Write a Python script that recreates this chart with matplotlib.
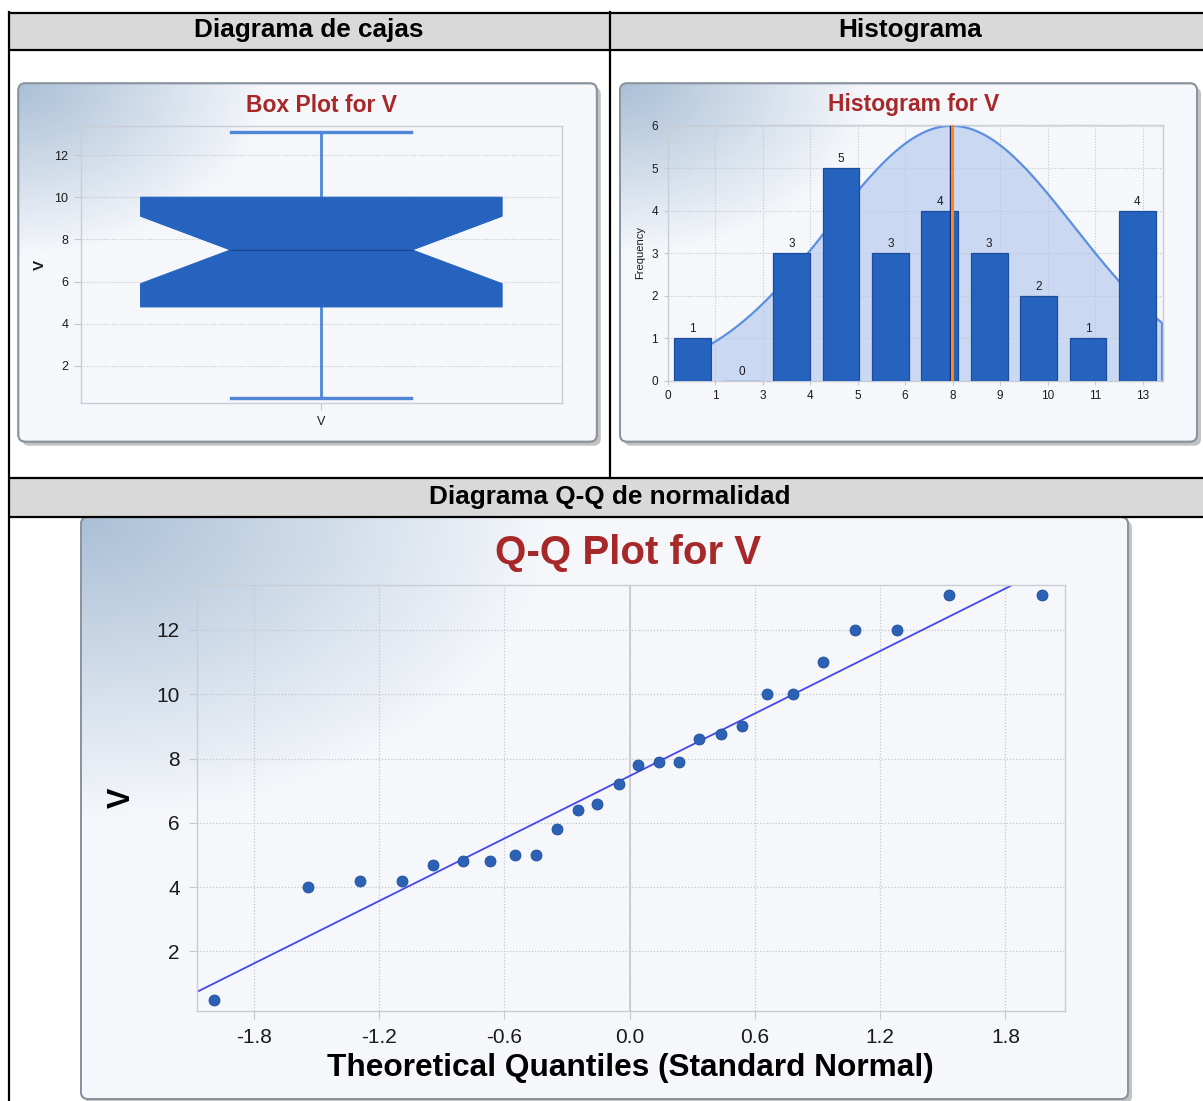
import numpy as np
import matplotlib
matplotlib.use("Agg")
import matplotlib.pyplot as plt
from matplotlib.patches import FancyBboxPatch, Rectangle, Polygon

plt.rcParams['font.family'] = ['Liberation Sans', 'DejaVu Sans']

W, H = 1203, 1101

# ---------------- data ----------------
header_top_left = "Diagrama de cajas"
header_top_right = "Histograma"
header_bottom = "Diagrama Q-Q de normalidad"

box_title = "Box Plot for V"
box_category = ["V"]
box_q1 = 4.8
box_median = 7.5
box_q3 = 10.0
box_notch_low = 5.9
box_notch_high = 9.1
box_whisker_low = 0.5
box_whisker_high = 13.1
box_yticks = [2, 4, 6, 8, 10, 12]

hist_title = "Histogram for V"
hist_counts = [1, 0, 3, 5, 3, 4, 3, 2, 1, 4]
hist_edge_labels = ["0", "1", "3", "4", "5", "6", "8", "9", "10", "11", "13"]
hist_yticks = [0, 1, 2, 3, 4, 5, 6]
hist_mean_pos = 5.98      # mean marker, in edge-label units
hist_curve_peak = 6.0
hist_curve_sd = 2.57
hist_curve_start = 0.935

qq_title = "Q-Q Plot for V"
qq_theoretical = [-1.99, -1.54, -1.29, -1.09, -0.94, -0.80, -0.67, -0.55, -0.45,
                  -0.35, -0.25, -0.155, -0.05, 0.04, 0.14, 0.235, 0.33, 0.435,
                  0.54, 0.66, 0.78, 0.925, 1.08, 1.28, 1.53, 1.975]
qq_values = [0.5, 4.0, 4.2, 4.2, 4.7, 4.8, 4.8, 5.0, 5.0, 5.8, 6.4, 6.6, 7.2,
             7.8, 7.9, 7.9, 8.6, 8.75, 9.0, 10.0, 10.0, 11.0, 12.0, 12.0, 13.1, 13.1]
qq_line_intercept = 7.46
qq_line_slope = 3.24
qq_xticks = [-1.8, -1.2, -0.6, 0.0, 0.6, 1.2, 1.8]
qq_xticklabels = ["-1.8", "-1.2", "-0.6", "0.0", "0.6", "1.2", "1.8"]
qq_yticks = [2, 4, 6, 8, 10, 12]

# ---------------- style ----------------
TITLE_RED = "#a62828"
BAR_BLUE = "#2563be"
BAR_EDGE = "#1d4d9c"
WHISK = "#4f86d9"
GRID = "#c4c7cc"
SPINE = "#c9ced6"
PANEL_FACE = "#f5f7fb"
PANEL_EDGE = "#8a949e"
TXT = "#1a1a1a"

fig = plt.figure(figsize=(W / 100, H / 100), dpi=100)
fig.patch.set_facecolor("white")

bg = fig.add_axes([0, 0, 1, 1])
bg.set_xlim(0, W)
bg.set_ylim(H, 0)
bg.axis("off")


def add_ax(x0, y0, x1, y1):
    return fig.add_axes([x0 / W, 1 - y1 / H, (x1 - x0) / W, (y1 - y0) / H])


def panel(x0, y0, x1, y1, ga, gb):
    w, h = x1 - x0, y1 - y0
    sh = FancyBboxPatch((x0 + 4, y0 + 4), w, h,
                        boxstyle="round,pad=0,rounding_size=7",
                        fc="#c2c2c2", ec="none", zorder=1)
    bg.add_patch(sh)
    main = FancyBboxPatch((x0, y0), w, h,
                          boxstyle="round,pad=0,rounding_size=7",
                          fc=PANEL_FACE, ec=PANEL_EDGE, lw=1.3, zorder=2)
    bg.add_patch(main)
    nx, ny = int(w), int(h)
    yy, xx = np.mgrid[0:ny, 0:nx]
    r = np.sqrt((xx / ga) ** 2 + (yy / gb) ** 2)
    alpha = np.clip(1 - r, 0, 1) ** 1.0 * 0.92
    img = np.zeros((ny, nx, 4))
    img[..., 0] = 0.64
    img[..., 1] = 0.73
    img[..., 2] = 0.83
    img[..., 3] = alpha
    im = bg.imshow(img, extent=(x0, x1, y1, y0), origin="upper",
                   interpolation="bilinear", zorder=3, aspect="auto")
    im.set_clip_path(main)
    border = FancyBboxPatch((x0, y0), w, h,
                            boxstyle="round,pad=0,rounding_size=7",
                            fc="none", ec=PANEL_EDGE, lw=1.3, zorder=4)
    bg.add_patch(border)


# ---------------- table ----------------
bg.add_patch(Rectangle((8, 12.5), W, 37, fc="#d9d9d9", ec="none", zorder=0))
bg.add_patch(Rectangle((8, 477.5), W, 39, fc="#d9d9d9", ec="none", zorder=0))
for yv in [12.5, 49.5, 477.5, 516.5]:
    bg.plot([8, W], [yv, yv], color="black", lw=1.6, zorder=5, solid_capstyle="butt")
bg.plot([8.5, 8.5], [12, H], color="black", lw=1.6, zorder=5)
bg.plot([610, 610], [12, 477.5], color="black", lw=1.6, zorder=5)

hdr = dict(fontsize=18.8, fontweight="bold", ha="center", va="center", color="black", zorder=6)
bg.text(309, 30, header_top_left, **hdr)
bg.text(910, 30, header_top_right, **hdr)
bg.text(610, 497, header_bottom, **hdr)

# ---------------- panels ----------------
panel(18.3, 83.3, 596.8, 441.7, 250, 170)
panel(620, 83.3, 1197, 441.7, 250, 170)
panel(81, 517, 1128, 1099, 470, 300)


def style_axes(ax, ls):
    ax.patch.set_visible(False)
    for s in ax.spines.values():
        s.set_color(SPINE)
        s.set_linewidth(1.0)
    ax.tick_params(colors=GRID, labelcolor=TXT, labelsize=ls)


# ---------------- box plot ----------------
axb = add_ax(81, 125.7, 561.7, 403.3)
style_axes(axb, 9)
axb.set_xlim(0, 1)
axb.set_ylim(0.23, 13.39)
axb.set_yticks(box_yticks)
axb.set_yticklabels([str(t) for t in box_yticks])
axb.set_xticks([0.5])
axb.set_xticklabels(box_category)
axb.tick_params(axis="both", length=5, width=0.8, pad=4)
axb.yaxis.grid(True, linestyle=(0, (1, 1.5)), color=GRID, lw=0.8)
axb.set_axisbelow(True)
c = 0.5
hw, nw, cw = 0.376, 0.189, 0.1875
poly = [(c - hw, box_q1), (c - hw, box_notch_low), (c - nw, box_median),
        (c - hw, box_notch_high), (c - hw, box_q3), (c + hw, box_q3),
        (c + hw, box_notch_high), (c + nw, box_median), (c + hw, box_notch_low),
        (c + hw, box_q1)]
axb.add_patch(Polygon(poly, closed=True, fc=BAR_BLUE, ec=BAR_BLUE, lw=0.8, zorder=3))
axb.plot([c - nw, c + nw], [box_median, box_median], color="#1b468e", lw=1.0, zorder=4)
axb.plot([c, c], [box_q3, box_whisker_high], color=WHISK, lw=2.0, zorder=2)
axb.plot([c, c], [box_q1, box_whisker_low], color=WHISK, lw=2.0, zorder=2)
axb.plot([c - cw, c + cw], [box_whisker_high, box_whisker_high], color=WHISK, lw=2.4, zorder=2)
axb.plot([c - cw, c + cw], [box_whisker_low, box_whisker_low], color=WHISK, lw=2.4, zorder=2)
axb.set_ylabel("V", fontsize=11, fontweight="bold", color=TXT)
axb.yaxis.set_label_coords((40 - 81) / 480.7, 0.5)
axb.yaxis.label.set_va("center")
bg.text(321, 105, box_title, fontsize=16.5, fontweight="bold", color=TITLE_RED,
        ha="center", va="center", zorder=6)

# ---------------- histogram ----------------
unit = 47.5
axh = add_ax(667.6, 125, 1163, 380.7)
style_axes(axh, 8.5)
xmax = (1163 - 667.6) / unit
axh.set_xlim(0, xmax)
axh.set_ylim(0, 6.02)
axh.set_xticks(range(len(hist_edge_labels)))
axh.set_xticklabels(hist_edge_labels)
axh.set_yticks(hist_yticks)
axh.set_yticklabels([str(t) for t in hist_yticks])
axh.tick_params(axis="both", length=3, width=0.8, pad=4)
axh.grid(True, linestyle=(0, (1, 1.5)), color=GRID, lw=0.8)
axh.set_axisbelow(True)

xs = np.linspace(hist_curve_start, xmax - 0.02, 400)
ys = hist_curve_peak * np.exp(-0.5 * ((xs - hist_mean_pos) / hist_curve_sd) ** 2)
axh.fill_between(xs, 0, ys, color="#b4c8ec", alpha=0.65, lw=0, zorder=1.5)
axh.plot(np.r_[xs, xs[-1]], np.r_[ys, 0], color="#5b8fe0", lw=1.6, zorder=1.6)

centers = [0.53 + 1.04 * i for i in range(len(hist_counts))]
axh.bar(centers, hist_counts, width=0.777, color=BAR_BLUE, edgecolor=BAR_EDGE,
        lw=0.9, zorder=3)
for cx, v in zip(centers, hist_counts):
    axh.text(cx, v + 0.07, str(v), ha="center", va="bottom", fontsize=8.5,
             color=TXT, zorder=5)
axh.plot([hist_mean_pos - 0.035] * 2, [0, hist_curve_peak], color="#1a237e", lw=1.0, zorder=4)
axh.plot([hist_mean_pos + 0.015] * 2, [0, hist_curve_peak], color="#ff8c00", lw=2.2, zorder=4)
axh.set_ylabel("Frequency", fontsize=8, color=TXT)
axh.yaxis.set_label_coords((640 - 667.6) / (1163 - 667.6), 0.5)
axh.yaxis.label.set_va("center")
bg.text(914, 105, hist_title, fontsize=16.5, fontweight="bold", color=TITLE_RED,
        ha="center", va="center", zorder=6)

# ---------------- Q-Q plot ----------------
axq = add_ax(196.5, 585.3, 1065, 1011.3)
style_axes(axq, 15)
axq.set_xlim(-2.075, 2.085)
axq.set_ylim(0.14, 13.39)
axq.set_xticks(qq_xticks)
axq.set_xticklabels(qq_xticklabels)
axq.set_yticks(qq_yticks)
axq.set_yticklabels([str(t) for t in qq_yticks])
axq.tick_params(axis="both", length=6, width=0.8, pad=6)
axq.grid(True, linestyle=(0, (1, 1.5)), color=GRID, lw=0.9)
axq.set_axisbelow(True)
axq.axvline(0, color="#c8cbd0", lw=1.3, zorder=1)
lx = np.array(axq.get_xlim())
axq.plot(lx, qq_line_intercept + qq_line_slope * lx, color="#4646ee", lw=1.3, zorder=2)
axq.scatter(qq_theoretical, qq_values, s=62, color="#2c62b6", edgecolor="#1e4d99",
            lw=0.6, zorder=3)
axq.set_xlabel("Theoretical Quantiles (Standard Normal)", fontsize=22.8,
               fontweight="bold", color="black")
axq.xaxis.set_label_coords(0.5, -(1068 - 1011.3) / (1011.3 - 585.3))
axq.xaxis.label.set_va("center")
axq.set_ylabel("V", fontsize=22, fontweight="bold", color="black")
axq.yaxis.set_label_coords((122 - 196.5) / (1065 - 196.5), 0.5)
axq.yaxis.label.set_va("center")
bg.text(628, 553, qq_title, fontsize=29, fontweight="bold", color=TITLE_RED,
        ha="center", va="center", zorder=6)

fig.savefig("out.png", dpi=100)
